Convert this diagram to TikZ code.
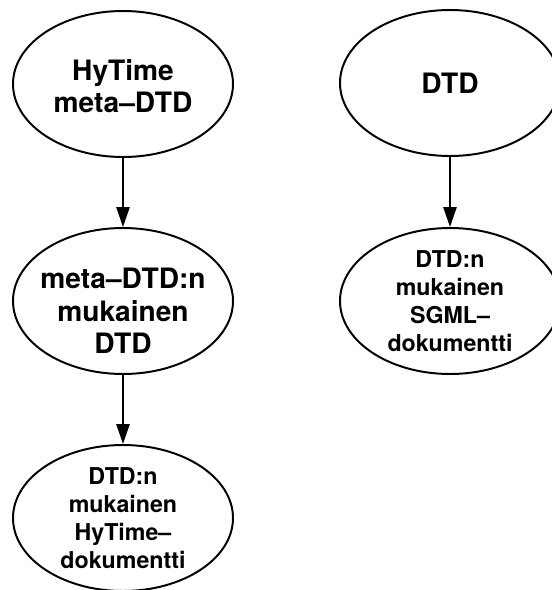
\documentclass[tikz,border=0pt]{standalone}
\usepackage{fontspec}
\setmainfont{TeX Gyre Heros}
\usetikzlibrary{shapes.geometric,arrows.meta}

\tikzset{
  blob/.style={draw,ellipse,line width=1.4pt,minimum width=5.5cm,minimum height=3.65cm,inner sep=0pt},
  bigtxt/.style={align=center,font=\fontsize{20}{23}\selectfont\bfseries},
  smalltxt/.style={align=center,font=\fontsize{16.5}{20}\selectfont\bfseries},
  flow/.style={line width=1.4pt,-{Triangle[length=0.5cm,width=0.33cm]}}
}

\begin{document}
\begin{tikzpicture}
\useasboundingbox (0,0) rectangle (13.8,-14.75);
% left column
\node[blob] (hytime) at (3.075,-2.1) {};
\node[bigtxt] (hytimetxt) at ([yshift=-0.05cm]hytime.center) {HyTime\\meta--DTD};
\node[blob] (metadtd) at (3.075,-7.525) {};
\node[bigtxt] (metadtdtxt) at ([yshift=-0.25cm]metadtd.center) {meta--DTD:n\\mukainen\\DTD};
\node[blob] (hydoc) at (3.075,-12.95) {};
\node[smalltxt] (hydoctxt) at (hydoc.center) {DTD:n\\mukainen\\HyTime--\\dokumentti};
% right column
\node[blob] (dtd) at (11.25,-2.075) {};
\node[bigtxt] (dtdtxt) at (dtd.center) {DTD};
\node[blob] (sgmldoc) at (11.25,-7.525) {};
\node[smalltxt] (sgmldoctxt) at (sgmldoc.center) {DTD:n\\mukainen\\SGML--\\dokumentti};
\draw[flow] (hytime.south)--(metadtd.north);
\draw[flow] (metadtd.south)--(hydoc.north);
\draw[flow] (dtd.south)--(sgmldoc.north);
\end{tikzpicture}
\end{document}
